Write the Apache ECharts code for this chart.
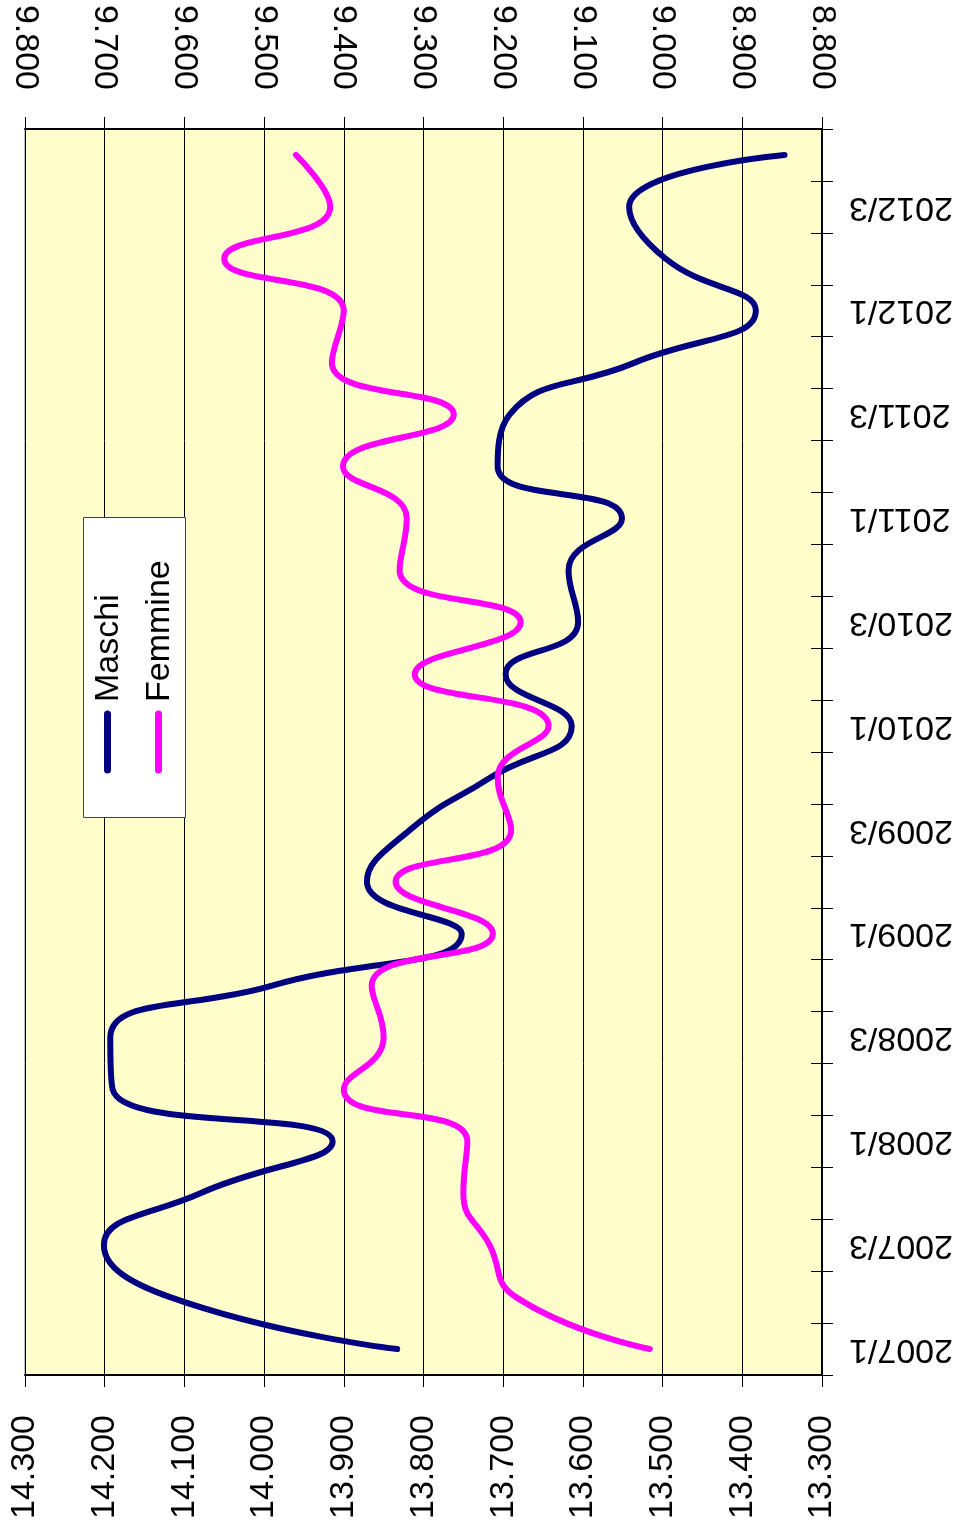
<!DOCTYPE html>
<html>
<head>
<meta charset="utf-8">
<script src="https://cdn.jsdelivr.net/npm/echarts@6/dist/echarts.min.js"></script>
<style>
html,body{margin:0;padding:0;background:#fff;}
#chart{width:959px;height:1533px;}
</style>
</head>
<body>
<div id="chart"></div>
<script>
const categories = ['2007/1','2007/2','2007/3','2007/4','2008/1','2008/2','2008/3','2008/4',
  '2009/1','2009/2','2009/3','2009/4','2010/1','2010/2','2010/3','2010/4',
  '2011/1','2011/2','2011/3','2011/4','2012/1','2012/2','2012/3','2012/4'];
const maschi = [13833,14118,14201,14080,13914,14190,14193,13990,13752,13871,13817,13717,
  13614,13697,13606,13618,13551,13707,13692,13535,13383,13496,13542,13347];
const femmine = [9016,9184,9217,9250,9245,9400,9350,9365,9213,9335,9190,9207,
  9143,9311,9178,9330,9321,9401,9262,9415,9400,9550,9417,9460];
const seriesNames = ['Maschi','Femmine'];
const maschiRange = [13300,14300];
const femmineRange = [8800,9800];
const step = 100;

const FONT = '"Liberation Sans", Arial, sans-serif';
const fmt = v => (v/1000).toFixed(3);

const chart = echarts.init(document.getElementById('chart'), null, {renderer:'canvas'});

function valueAxis(pos, range, labels, inside, extra) {
  return Object.assign({
    type:'value', position:pos, min:range[0], max:range[1], interval:step, inverse:true,
    axisLine:{show:labels, onZero:false, lineStyle:{color:'#000', width:2}},
    axisTick:{show:true, inside:inside, length: inside?10:12, lineStyle:{color:'#000', width:1}},
    axisLabel:{show:labels, rotate:90, margin: pos==='bottom'?40:39, fontSize:34, color:'#000', fontFamily:FONT, formatter:fmt},
    splitLine:{show:false}
  }, extra||{});
}

const option = {
  animation:false,
  backgroundColor:'#fff',
  grid:{left:25, right:137, top:129, bottom:158, show:true, backgroundColor:'#FFFFCC', borderColor:'#808080', borderWidth:1},
  xAxis:[
    valueAxis('bottom', maschiRange, true, false, {splitLine:{show:true, lineStyle:{color:'#000', width:1}}}),
    valueAxis('top', femmineRange, true, false),
    valueAxis('bottom', maschiRange, false, true),
    valueAxis('top', femmineRange, false, true)
  ],
  yAxis:[
    {type:'category', position:'right', data:categories, boundaryGap:true,
     axisLine:{show:true, onZero:false, lineStyle:{color:'#000', width:2}},
     axisTick:{show:true, interval:0, length:11, lineStyle:{color:'#000', width:1}},
     axisLabel:{interval:1, rotate:180, margin:27, fontSize:34, color:'#000', fontFamily:FONT},
     splitLine:{show:false}},
    {type:'category', position:'right', data:categories, boundaryGap:true,
     axisLine:{show:false},
     axisTick:{show:true, inside:true, interval:0, length:11, lineStyle:{color:'#000', width:1}},
     axisLabel:{show:false}, splitLine:{show:false}}
  ],
  series:[
    {name:seriesNames[0], type:'line', xAxisIndex:0, yAxisIndex:0, smooth:0.5, symbol:'none',
     lineStyle:{color:'#000080', width:6, cap:'round', join:'round'},
     data: maschi.map((v,i)=>[v, categories[i]])},
    {name:seriesNames[1], type:'line', xAxisIndex:1, yAxisIndex:0, smooth:0.5, symbol:'none',
     lineStyle:{color:'#FF00FF', width:6, cap:'round', join:'round'},
     data: femmine.map((v,i)=>[v, categories[i]])}
  ],
  graphic:[
    {type:'rect', z:100, shape:{x:83.5, y:517.5, width:102, height:300},
     style:{fill:'#fff', stroke:'#404040', lineWidth:1}},
    {type:'line', z:101, shape:{x1:107.5, y1:714, x2:107.5, y2:770},
     style:{stroke:'#000080', lineWidth:7, lineCap:'round'}},
    {type:'line', z:101, shape:{x1:158.5, y1:714, x2:158.5, y2:770},
     style:{stroke:'#FF00FF', lineWidth:7, lineCap:'round'}},
    {type:'text', z:101, x:109, y:702, rotation:Math.PI/2,
     style:{text:seriesNames[0], fontSize:34, fontFamily:FONT, fill:'#000', align:'left', verticalAlign:'middle'}},
    {type:'text', z:101, x:160, y:702, rotation:Math.PI/2,
     style:{text:seriesNames[1], fontSize:34, fontFamily:FONT, fill:'#000', align:'left', verticalAlign:'middle'}}
  ]
};
chart.setOption(option);
</script>
</body>
</html>
